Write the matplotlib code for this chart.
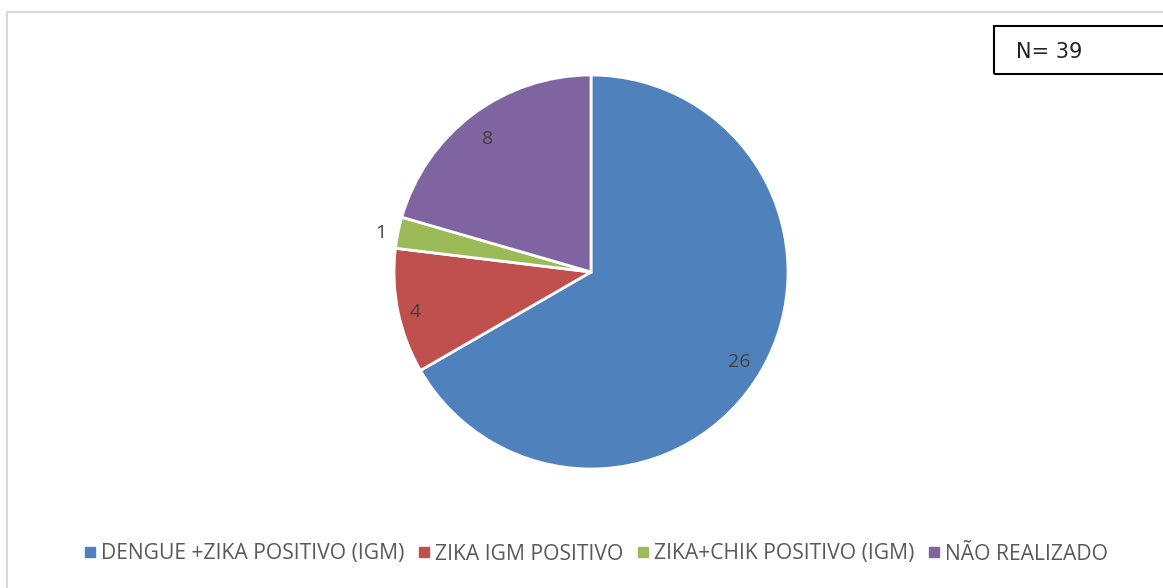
import numpy as np
import matplotlib
matplotlib.use('Agg')
import matplotlib.pyplot as plt
from matplotlib.lines import Line2D
from matplotlib.patches import Rectangle

# data
categories = ['DENGUE +ZIKA POSITIVO (IGM)', 'ZIKA IGM POSITIVO',
              'ZIKA+CHIK POSITIVO (IGM)', 'NÃO REALIZADO']
values = [26, 4, 1, 8]
colors = ['#4F81BD', '#C0504D', '#9BBB59', '#8064A2']
label_dist = [0.87, 0.91, 1.09, 0.87]
n_text = 'N= 39'

W, H = 1163, 588
fig = plt.figure(figsize=(W / 100, H / 100), dpi=100)

# light grey chart-area border
fig.patches.append(Rectangle((7 / W, -0.1), 1.2, 1 - 12 / H + 0.1, transform=fig.transFigure,
                             fill=False, edgecolor='#D9D9D9', linewidth=1.5))

# pie axes: center (591,272), radius 197 px
cx, cy, r = 591, 272, 197
ax = fig.add_axes([(cx - r) / W, (H - cy - r) / H, 2 * r / W, 2 * r / H])
wedges, _ = ax.pie(values, colors=colors, startangle=90, counterclock=False, radius=1,
                   wedgeprops=dict(edgecolor='white', linewidth=2))
ax.set_xlim(-1, 1)
ax.set_ylim(-1, 1)
ax.set_aspect('equal')

# data labels at the middle of each wedge
for w, v, d in zip(wedges, values, label_dist):
    ang = np.deg2rad((w.theta1 + w.theta2) / 2)
    ax.text(d * np.cos(ang), d * np.sin(ang) - 0.02, str(v), ha='center', va='center',
            fontsize=14, color='#404040', family='Open Sans')

# legend
handles = [Line2D([], [], marker='s', linestyle='', color=c, markersize=7.5) for c in colors]
fig.legend(handles, categories, loc='center', bbox_to_anchor=(597 / W, 1 - 554 / H), ncol=4,
           frameon=False, handlelength=0.4, handletextpad=0.3, columnspacing=0.75,
           prop=dict(family='Open Sans', size=15.2), labelcolor='#595959')

# N box
fig.patches.append(Rectangle((994 / W, 1 - 74 / H), 0.2, 48 / H, transform=fig.transFigure,
                             fill=False, edgecolor='black', linewidth=1.5))
fig.text(1016 / W, 1 - 52 / H, n_text, ha='left', va='center', fontsize=15, color='#222222')

fig.savefig('out.png', dpi=100)
